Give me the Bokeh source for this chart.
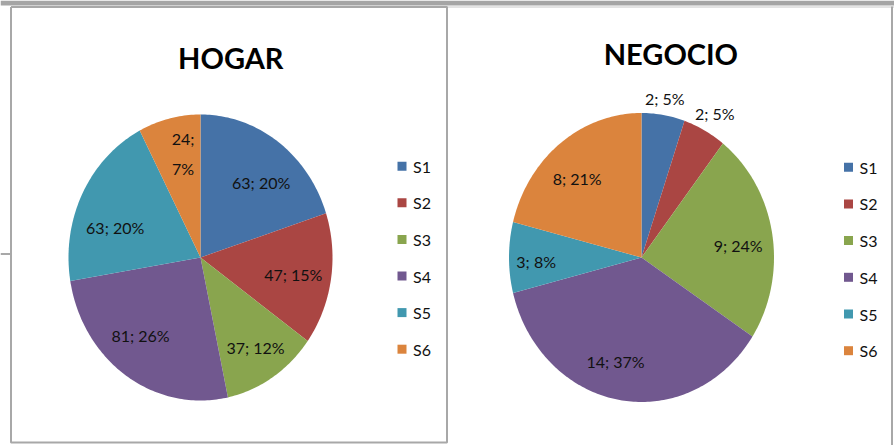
import math
from bokeh.plotting import figure
from bokeh.models import Range1d
from bokeh.core.properties import value
from bokeh.embed import file_html
from bokeh.resources import INLINE

# ---------------- data ----------------
series = ["S1", "S2", "S3", "S4", "S5", "S6"]
hogar_values = [63, 47, 37, 81, 63, 24]
hogar_pcts = ["20%", "15%", "12%", "26%", "20%", "7%"]
negocio_values = [2, 2, 9, 14, 3, 8]
negocio_pcts = ["5%", "5%", "24%", "37%", "8%", "21%"]
colors = ["#4572A7", "#AA4643", "#89A54E", "#71588F", "#4198AF", "#DB843D"]

# ---------------- layout (pixel space of the picture) ----------------
W, H = 894, 445
FONT = value("Lato")

p = figure(width=W, height=H, output_backend="svg", toolbar_location=None,
           x_range=Range1d(0, W), y_range=Range1d(H, 0),
           x_axis_type=None, y_axis_type=None, min_border=0,
           outline_line_color=None, background_fill_color="white",
           border_fill_color="white")

# frame decorations
p.quad(left=[0], right=[W], top=[0], bottom=[5], fill_color="#A5A5A5", line_color=None)
p.line([446.5, 894], [6.5, 6.5], line_color="#C8C8C8", line_width=1)
p.line([10.5, 446.5, 446.5, 10.5, 10.5], [6.5, 6.5, 442, 442, 6.5],
       line_color="#A8A8A8", line_width=2)
p.line([891.5, 891.5], [6, 445], line_color="#A8A8A8", line_width=2)
p.line([0, 10], [253.5, 253.5], line_color="#A8A8A8", line_width=2)


def draw_pie(cx, cy, rx, ry, values, pcts, fracs, nudges, wrap):
    total = float(sum(values))
    xs, ys = [], []
    lab_x, lab_y, lab_t = [], [], []
    wx, wy, wt = [], [], []
    start = 0.0
    for i, v in enumerate(values):
        span = v / total * 2 * math.pi
        end = start + span
        n = max(4, int(span / (2 * math.pi) * 360))
        px, py = [cx], [cy]
        for k in range(n + 1):
            a = start + span * k / n
            px.append(cx + rx * math.sin(a))
            py.append(cy - ry * math.cos(a))
        xs.append(px)
        ys.append(py)
        mid = (start + end) / 2
        f = fracs[i]
        lx = cx + f * rx * math.sin(mid) + nudges[i][0]
        ly = cy - f * ry * math.cos(mid) + nudges[i][1]
        if wrap[i]:
            wx.append(lx); wy.append(ly); wt.append(f"{v};\n{pcts[i]}")
        else:
            lab_x.append(lx); lab_y.append(ly); lab_t.append(f"{v}; {pcts[i]}")
        start = end
    p.patches(xs, ys, fill_color=colors[:len(values)], line_color=None)
    p.text(lab_x, lab_y, text=lab_t, text_font=FONT, text_font_size="16px",
           text_align="center", text_baseline="middle", text_color="#111111")
    if wt:
        p.text(wx, wy, text=wt, text_font=FONT, text_font_size="16px",
               text_align="center", text_baseline="middle", text_color="#111111",
               text_line_height=1.55)


def draw_legend(sx, y0, step):
    for i, s in enumerate(series):
        y = y0 + i * step
        p.rect([sx], [y], width=9, height=9, fill_color=colors[i], line_color=None)
        p.text([sx + 11], [y], text=[s], text_font=FONT, text_font_size="16px",
               text_align="left", text_baseline="middle", text_color="#111111")


# HOGAR
draw_pie(200, 257, 132, 143, hogar_values, hogar_pcts,
         [0.72] * 6,
         [(4.8, 8.3), (-1.1, 0.8), (3.1, 4.0), (-6.4, -7.1), (-0.3, 15.6), (5.1, -4.0)],
         [False, False, False, False, False, True])
p.text([230.3], [56.7], text=["HOGAR"], text_font=FONT, text_font_size="29px",
       text_font_style="bold", text_align="center", text_baseline="alphabetic",
       text_color="black")
draw_legend(401.5, 165.7, 36.6)

# NEGOCIO
draw_pie(641, 257, 132.5, 144.5, negocio_values, negocio_pcts,
         [1.11, 1.13, 0.74, 0.74, 0.74, 0.74],
         [(-0.9, -0.5), (2.1, -0.1), (0.0, 5.6), (-9.8, -1.4), (-7.3, 4.0), (-4.1, 5.6)],
         [False] * 6)
p.text([670.4], [52.7], text=["NEGOCIO"], text_font=FONT, text_font_size="29px",
       text_font_style="bold", text_align="center", text_baseline="alphabetic",
       text_color="black")
draw_legend(848, 166.7, 36.7)

open("out.html", "w").write(file_html(p, INLINE))
